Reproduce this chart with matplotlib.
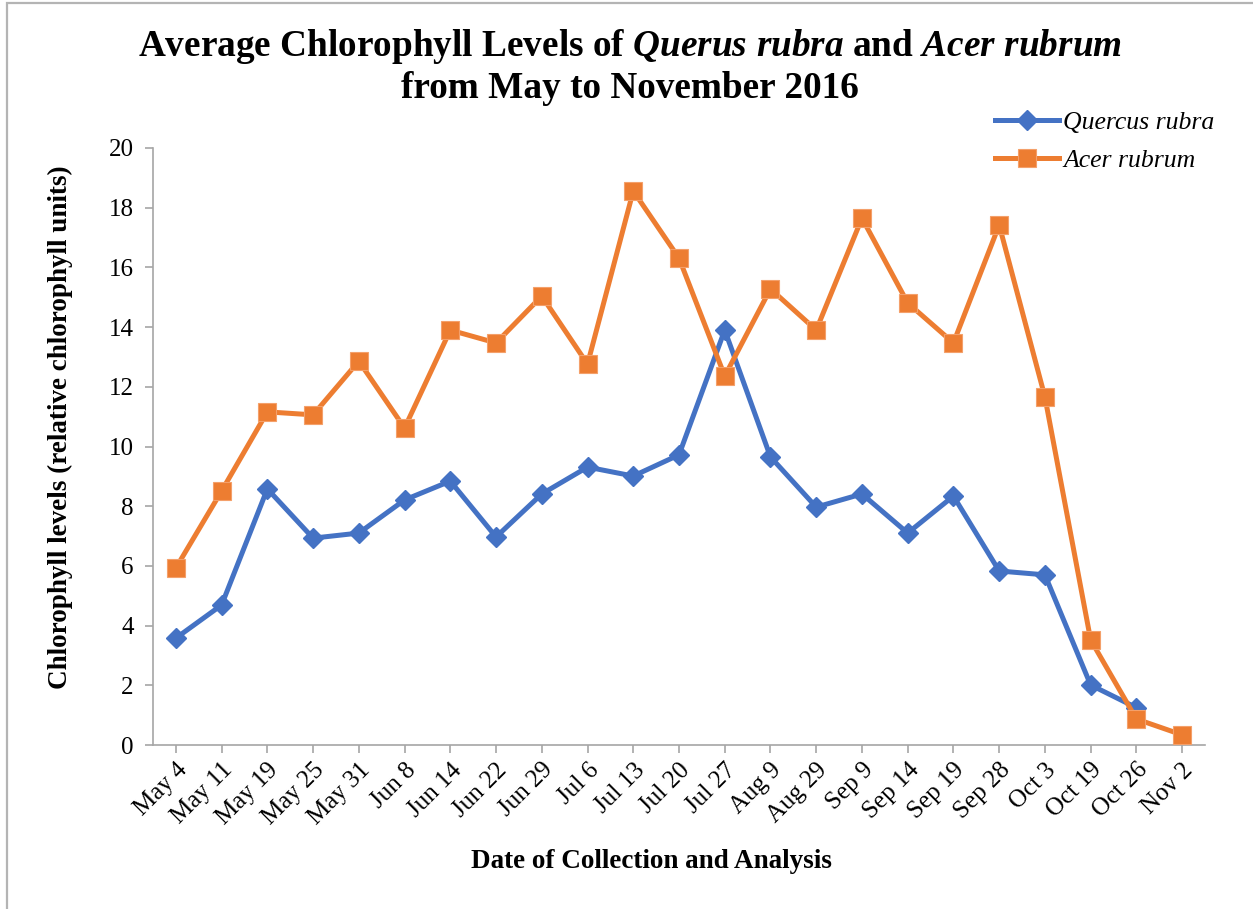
import matplotlib
matplotlib.use("Agg")
import matplotlib.pyplot as plt
from matplotlib.patches import Rectangle
import numpy as np

dates = ["May 4", "May 11", "May 19", "May 25", "May 31", "Jun 8", "Jun 14",
         "Jun 22", "Jun 29", "Jul 6", "Jul 13", "Jul 20", "Jul 27", "Aug 9",
         "Aug 29", "Sep 9", "Sep 14", "Sep 19", "Sep 28", "Oct 3", "Oct 19",
         "Oct 26", "Nov 2"]

quercus_rubra = [3.58, 4.69, 8.58, 6.93, 7.10, 8.21, 8.84, 6.97, 8.41, 9.31,
                 9.01, 9.72, 13.90, 9.65, 7.97, 8.41, 7.10, 8.34, 5.83, 5.70,
                 2.01, 1.25, np.nan]

acer_rubrum = [5.93, 8.51, 11.16, 11.06, 12.86, 10.62, 13.90, 13.47, 15.04,
               12.76, 18.56, 16.31, 12.36, 15.28, 13.90, 17.65, 14.81, 13.47,
               17.42, 11.66, 3.52, 0.87, 0.34]

y_ticks = [0, 2, 4, 6, 8, 10, 12, 14, 16, 18, 20]

plt.rcParams["font.family"] = ["Liberation Serif", "DejaVu Serif"]
plt.rcParams["mathtext.fontset"] = "custom"
plt.rcParams["mathtext.rm"] = "Liberation Serif:bold"
plt.rcParams["mathtext.it"] = "Liberation Serif:italic:bold"

W, H = 1253, 909
fig = plt.figure(figsize=(W / 100, H / 100), dpi=100)
ax = fig.add_axes([153 / W, 1 - 745 / H, (1205 - 153) / W, (745 - 148) / H])

blue = "#4472C4"
orange = "#ED7D31"
x = np.arange(len(dates))

ax.plot(x, quercus_rubra, color=blue, lw=3.6, marker="D", markersize=10,
        markeredgecolor=blue, label="Quercus rubra", zorder=3)
ax.plot(x, acer_rubrum, color=orange, lw=3.6, marker="s", markersize=13,
        markeredgecolor="#F4A06A", markeredgewidth=0.8, label="Acer rubrum",
        zorder=4)

ax.set_xlim(-0.5, len(dates) - 0.5)
ax.set_ylim(0, 20)
ax.set_yticks(y_ticks)
ax.set_yticklabels([str(v) for v in y_ticks], fontsize=18)
ax.set_xticks(x)
ax.set_xticklabels(dates, fontsize=18, rotation=45, ha="right",
                   rotation_mode="anchor")

for side in ("top", "right"):
    ax.spines[side].set_visible(False)
for side in ("left", "bottom"):
    ax.spines[side].set_color("#a6a6a6")
    ax.spines[side].set_linewidth(1.2)
ax.tick_params(axis="both", colors="#a6a6a6", labelcolor="black",
               length=6, width=1.2, direction="out")
ax.tick_params(axis="y", pad=8)
ax.tick_params(axis="x", pad=4)

fig.text(651 / W, 1 - 862 / H, "Date of Collection and Analysis",
         ha="center", va="center", fontsize=19.5, fontweight="bold")
fig.text(60 / W, 1 - 427 / H, "Chlorophyll levels (relative chlorophyll units)",
         ha="center", va="center", rotation=90, fontsize=19.5,
         fontweight="bold")

fig.text(0.503, 1 - 47 / H,
         r"Average Chlorophyll Levels of $\it{Querus\ rubra}$ and $\it{Acer\ rubrum}$",
         ha="center", va="center", fontsize=26.8, fontweight="bold")
fig.text(0.503, 1 - 89 / H, "from May to November 2016",
         ha="center", va="center", fontsize=26.8, fontweight="bold")

fig.legend(loc="upper left", bbox_to_anchor=(995 / W, 1 - 111 / H),
           frameon=False, prop={"family": "Liberation Serif",
                                "style": "italic", "size": 18.5},
           handlelength=2.5, handletextpad=0.15, labelspacing=0.6,
           borderaxespad=0, borderpad=0)

fig.patches.append(Rectangle((7 / W, -0.05), 1.2, 1.05 - 3 / H,
                             transform=fig.transFigure, fill=False,
                             edgecolor="#b4b4b4", linewidth=1.6))

fig.savefig("out.png", dpi=100, facecolor="white")
